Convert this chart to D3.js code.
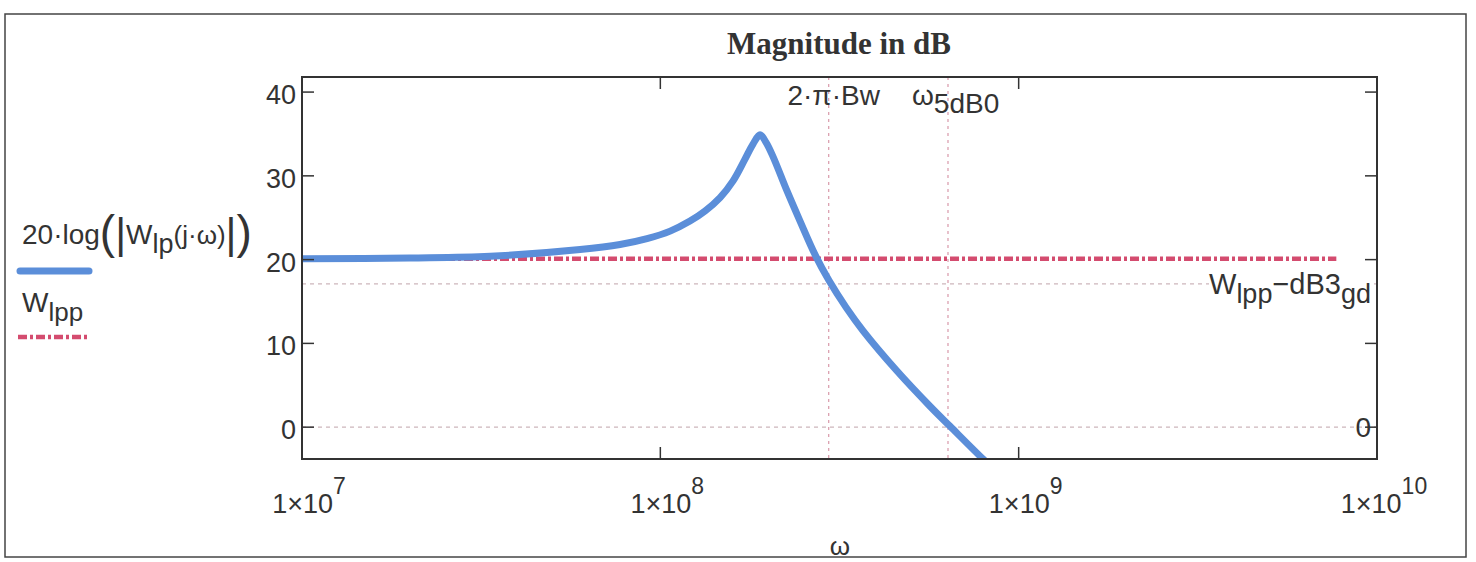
<!DOCTYPE html>
<html>
<head>
<meta charset="utf-8">
<script src="https://cdn.jsdelivr.net/npm/d3@7"></script>
<style>
  body { margin: 0; background: #ffffff; }
  text { font-family: "Liberation Sans", Arial, sans-serif; fill: #333; }
</style>
</head>
<body>
<div id="my_plot"></div>
<script>

// ======================= //
// DATA
// ======================= //

// 20*log(|Wlp(j*w)|)
var omegaLp = [1e7, 2e7, 3.35e7, 5.97e7, 7.72e7, 9.18e7, 1.065e8, 1.21e8, 1.333e8, 1.468e8, 1.596e8, 1.723e8, 1.814e8, 1.898e8, 1.972e8, 2.063e8, 2.257e8, 2.454e8, 2.702e8, 2.956e8, 3.298e8, 3.68e8, 4.577e8, 5.656e8, 6.436e8, 7.956e8, 8.594e8]
var magLp   = [20.1, 20.2, 20.4, 21.2, 21.8, 22.5, 23.4, 24.6, 25.8, 27.4, 29.4, 32.0, 33.8, 34.9, 34.0, 32.3, 28.2, 24.6, 20.6, 17.5, 14.3, 11.5, 6.7, 2.5, 0.1, -3.8, -5.1]

// Wlpp flat line
var omegaLpp = [1e7, 7.7e9]
var magLpp   = [20.1, 20.1]

// markers
var dB3gd = 3
var markerX = [2.95e8, 6.35e8]
var markerY = [0, 20.1 - dB3gd]

// ticks
var xTicks = [1e7, 1e8, 1e9, 1e10]
var xTickExp = ["7", "8", "9", "10"]
var yTicks = [0, 10, 20, 30, 40]

// ======================= //
// SVG AREAS
// ======================= //

var W = 1476, H = 562
var margin = {top: 77, right: 99, bottom: 103, left: 302},
  width = W - margin.left - margin.right,
  height = H - margin.top - margin.bottom;

var svg = d3.select("#my_plot")
  .append("svg")
    .attr("width", W)
    .attr("height", H)

// outer frame
svg.append("rect")
  .attr("x", 5).attr("y", 14)
  .attr("width", 1461).attr("height", 543)
  .style("fill", "none")
  .style("stroke", "#444")
  .style("stroke-width", 1.5)

// title
svg.append("text")
  .attr("x", 839).attr("y", 54)
  .attr("text-anchor", "middle")
  .style("font-family", "'Liberation Serif', 'Times New Roman', serif")
  .style("font-weight", "bold")
  .style("font-size", "31px")
  .text("Magnitude in dB")

var g = svg.append("g")
  .attr("transform", "translate(" + margin.left + "," + margin.top + ")")

// ======================= //
// SCALES
// ======================= //

var x = d3.scaleLog()
  .domain([1e7, 1e10])
  .range([0, width])

var y = d3.scaleLinear()
  .domain([-3.8, 41.8])
  .range([height, 0])

g.append("clipPath").attr("id", "clip")
  .append("rect").attr("width", width).attr("height", height)

// ======================= //
// MARKERS
// ======================= //

g.selectAll("vmark")
  .data(markerX)
  .enter()
  .append("line")
    .attr("x1", function(d){ return x(d) })
    .attr("x2", function(d){ return x(d) })
    .attr("y1", 0).attr("y2", height)
    .style("stroke", "#dba0b0")
    .style("stroke-width", 1.3)
    .style("stroke-dasharray", "3,4")

g.selectAll("hmark")
  .data(markerY)
  .enter()
  .append("line")
    .attr("x1", 0).attr("x2", width)
    .attr("y1", function(d){ return y(d) })
    .attr("y2", function(d){ return y(d) })
    .style("stroke", "#cdb6bc")
    .style("stroke-width", 1.2)
    .style("stroke-dasharray", "4,4")

// ======================= //
// CURVES
// ======================= //

var lineGen = d3.line()
  .x(function(d){ return x(d[0]) })
  .y(function(d){ return y(d[1]) })
  .curve(d3.curveCatmullRom.alpha(0.5))

g.append("path")
  .datum(d3.zip(omegaLpp, magLpp))
  .attr("d", lineGen)
  .attr("clip-path", "url(#clip)")
  .style("fill", "none")
  .style("stroke", "#d44c6f")
  .style("stroke-width", 4.5)
  .style("stroke-dasharray", "9,3,3,3")

g.append("path")
  .datum(d3.zip(omegaLp, magLp))
  .attr("d", lineGen)
  .attr("clip-path", "url(#clip)")
  .style("fill", "none")
  .style("stroke", "#5b8ed9")
  .style("stroke-width", 7)
  .style("stroke-linejoin", "round")

// ======================= //
// AXES
// ======================= //

g.append("rect")
  .attr("width", width).attr("height", height)
  .style("fill", "none")
  .style("stroke", "#333")
  .style("stroke-width", 2)

var innerX = xTicks.slice(1, 3)
g.selectAll("xtickB")
  .data(innerX).enter().append("line")
    .attr("x1", function(d){ return x(d) }).attr("x2", function(d){ return x(d) })
    .attr("y1", height).attr("y2", height - 12)
    .style("stroke", "#333").style("stroke-width", 1.5)
g.selectAll("xtickT")
  .data(innerX).enter().append("line")
    .attr("x1", function(d){ return x(d) }).attr("x2", function(d){ return x(d) })
    .attr("y1", 0).attr("y2", 12)
    .style("stroke", "#333").style("stroke-width", 1.5)

g.selectAll("ytickL")
  .data(yTicks).enter().append("line")
    .attr("x1", 0).attr("x2", 12)
    .attr("y1", function(d){ return y(d) }).attr("y2", function(d){ return y(d) })
    .style("stroke", "#333").style("stroke-width", 1.5)
g.selectAll("ytickR")
  .data(yTicks).enter().append("line")
    .attr("x1", width - 12).attr("x2", width)
    .attr("y1", function(d){ return y(d) }).attr("y2", function(d){ return y(d) })
    .style("stroke", "#333").style("stroke-width", 1.5)

// y labels
g.selectAll("ylabels")
  .data(yTicks).enter().append("text")
    .attr("x", -6)
    .attr("y", function(d){ return y(d) + 12 })
    .attr("text-anchor", "end")
    .style("font-size", "27px")
    .text(function(d){ return d })

// x labels, 1x10^n
var xl = g.selectAll("xlabels")
  .data(xTicks).enter().append("text")
    .attr("x", function(d){ return x(d) + 7 })
    .attr("y", height + 54)
    .attr("text-anchor", "middle")
    .style("font-size", "27px")
xl.append("tspan").text("1×10")
xl.append("tspan")
  .attr("dy", -19)
  .style("font-size", "23px")
  .text(function(d, i){ return xTickExp[i] })

// axis name
svg.append("text")
  .attr("x", 840).attr("y", 555)
  .attr("text-anchor", "middle")
  .style("font-size", "26px")
  .text("ω")

// marker labels
g.append("text")
  .attr("x", x(markerX[0]) + 5).attr("y", 28)
  .attr("text-anchor", "middle")
  .style("font-size", "28px")
  .text("2·π·Bw")

var w5 = g.append("text")
  .attr("x", x(markerX[1]) - 36).attr("y", 28)
  .style("font-size", "28px")
w5.append("tspan").text("ω")
w5.append("tspan").attr("dy", 8).text("5dB0")

var lowLab = g.append("text")
  .attr("x", width - 6).attr("y", y(markerY[1]) + 10)
  .attr("text-anchor", "end")
  .style("font-size", "29px")
lowLab.append("tspan").text("W")
lowLab.append("tspan").attr("dy", 9).style("font-size", "27px").text("lpp")
lowLab.append("tspan").attr("dy", -9).text("−dB3")
lowLab.append("tspan").attr("dy", 9).style("font-size", "27px").text("gd")

var bb = lowLab.node().getBBox()
g.insert("rect", function(){ return lowLab.node() })
  .attr("x", bb.x).attr("y", bb.y + 5)
  .attr("width", bb.width).attr("height", bb.height - 10)
  .style("fill", "#fff")

g.append("text")
  .attr("x", width - 6).attr("y", y(markerY[0]) + 10)
  .attr("text-anchor", "end")
  .style("font-size", "28px")
  .text("0")

// ======================= //
// LEGEND
// ======================= //

var leg1 = svg.append("text")
  .attr("x", 22).attr("y", 244)
  .style("font-size", "28px")
leg1.append("tspan").text("20·log")
leg1.append("tspan").style("font-size", "46px").attr("dy", 4).text("(")
leg1.append("tspan").style("font-size", "42px").text("|")
leg1.append("tspan").style("font-size", "28px").attr("dy", -4).text("W")
leg1.append("tspan").style("font-size", "27px").attr("dy", 9).text("lp")
leg1.append("tspan").style("font-size", "26px").attr("dy", -9).text("(j·ω)")
leg1.append("tspan").style("font-size", "42px").attr("dy", 4).text("|")
leg1.append("tspan").style("font-size", "46px").text(")")

svg.append("line")
  .attr("x1", 20).attr("x2", 89)
  .attr("y1", 271).attr("y2", 271)
  .style("stroke", "#5b8ed9")
  .style("stroke-width", 7)
  .style("stroke-linecap", "round")

var leg2 = svg.append("text")
  .attr("x", 22).attr("y", 312)
  .style("font-size", "28px")
leg2.append("tspan").text("W")
leg2.append("tspan").attr("dy", 9).style("font-size", "26px").text("lpp")

svg.append("line")
  .attr("x1", 18).attr("x2", 90)
  .attr("y1", 337).attr("y2", 337)
  .style("stroke", "#d44c6f")
  .style("stroke-width", 4.5)
  .style("stroke-dasharray", "9,3,3,3")

</script>
</body>
</html>
